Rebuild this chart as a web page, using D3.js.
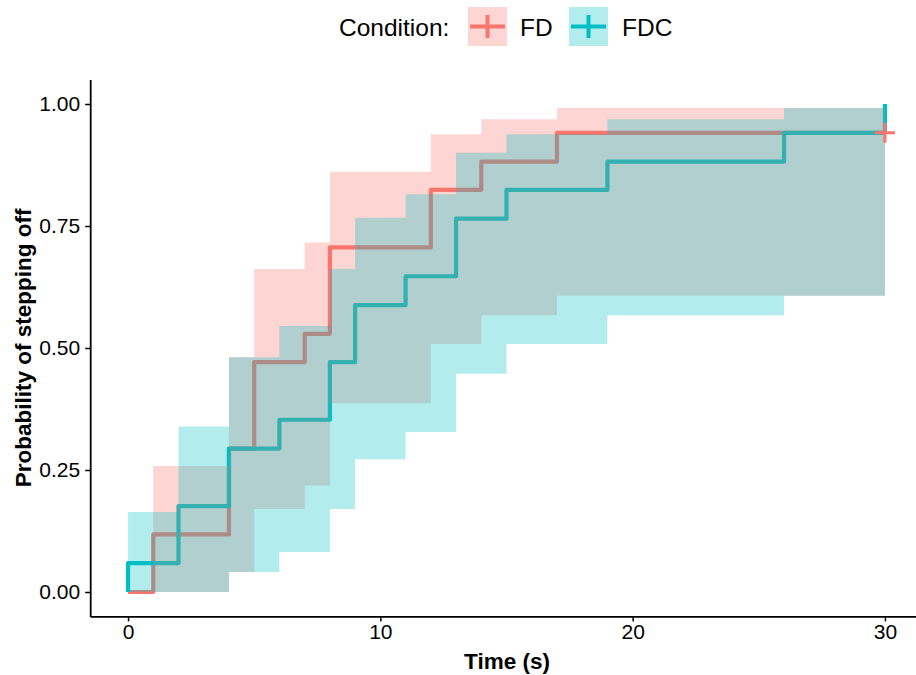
<!DOCTYPE html>
<html>
<head>
<meta charset="utf-8">
<script src="https://cdn.jsdelivr.net/npm/d3@7"></script>
<style>
body { margin: 0; background: #fff; }
text { font-family: "Liberation Sans", Arial, sans-serif; }
</style>
</head>
<body>
<div id="chart"></div>
<script>
// FD group (event times, cumulative probability, 95% band)
var fdTime  = [0, 1, 4, 5, 7, 8, 12, 14, 17, 30];
var fdProb  = [0, 0.118, 0.294, 0.471, 0.529, 0.706, 0.824, 0.882, 0.941, 0.941];
var fdLow   = [0, 0, 0.041, 0.170, 0.218, 0.387, 0.508, 0.567, 0.607, 0.607];
var fdHigh  = [0, 0.258, 0.481, 0.662, 0.716, 0.861, 0.938, 0.969, 0.992, 0.992];
var fdCensor = [[30, 0.941]];

// FDC group
var fdcTime = [0, 0, 2, 4, 6, 8, 9, 11, 13, 15, 19, 26, 30];
var fdcProb = [0, 0.059, 0.176, 0.294, 0.353, 0.471, 0.588, 0.647, 0.765, 0.824, 0.882, 0.941, 1.0];
var fdcLow  = [0, 0, 0, 0.041, 0.082, 0.170, 0.272, 0.328, 0.447, 0.508, 0.567, 0.607, 0.607];
var fdcHigh = [0, 0.164, 0.339, 0.481, 0.545, 0.662, 0.767, 0.815, 0.900, 0.938, 0.969, 0.992, 0.992];

var groups = ["FD", "FDC"];
var colors = ["#F8766D", "#00BFC4"];
var xTicks = [0, 10, 20, 30];
var yTicks = [0, 0.25, 0.5, 0.75, 1];

function rows(t, p, lo, hi) {
    return t.map(function(d, i) {
        return { t: d, p: p[i], lo: lo[i], hi: hi[i] };
    });
}

function init () {
    var w = 916;
    var h = 675;

    var series = [
        { name: "FD", color: colors[0], data: rows(fdTime, fdProb, fdLow, fdHigh), censor: fdCensor },
        { name: "FDC", color: colors[1], data: rows(fdcTime, fdcProb, fdcLow, fdcHigh), censor: [] }
    ];

    var xScale = d3.scaleLinear()
                .domain([-1.5, 31.5])
                .range([90.2, 922.8]);

    var yScale = d3.scaleLinear()
                .domain([-0.05, 1.05])
                .range([616.4, 79.6]);

    var svg = d3.select("#chart")
                .append("svg")
                .attr("width", w)
                .attr("height", h);

    var line = d3.line()
                .curve(d3.curveStepAfter)
                .x(function(d) { return xScale(d.t); })
                .y(function(d) { return yScale(d.p); });

    var area = d3.area()
                .curve(d3.curveStepAfter)
                .x(function(d) { return xScale(d.t); })
                .y0(function(d) { return yScale(d.lo); })
                .y1(function(d) { return yScale(d.hi); });

    // curves first, bands laid on top like ggsurvplot
    svg.selectAll("path.curve")
        .data(series)
        .enter()
        .append("path")
        .attr("class", "curve")
        .attr("d", function(d) { return line(d.data); })
        .attr("fill", "none")
        .attr("stroke", function(d) { return d.color; })
        .attr("stroke-width", 4.2)
        .attr("stroke-linejoin", "round");

    svg.selectAll("path.band")
        .data(series)
        .enter()
        .append("path")
        .attr("class", "band")
        .attr("d", function(d) { return area(d.data); })
        .attr("fill", function(d) { return d.color; })
        .attr("fill-opacity", 0.3);

    // censor marks
    series.forEach(function(s) {
        s.censor.forEach(function(c) {
            var cx = xScale(c[0]), cy = yScale(c[1]);
            svg.append("path")
                .attr("d", "M" + (cx - 10) + "," + cy + "H" + (cx + 10) + "M" + cx + "," + (cy - 10) + "V" + (cy + 10))
                .attr("stroke", s.color)
                .attr("stroke-width", 3);
        });
    });

    var xAxis = d3.axisBottom(xScale)
                .tickValues(xTicks)
                .tickSize(5)
                .tickSizeOuter(0)
                .tickPadding(3);

    var yAxis = d3.axisLeft(yScale)
                .tickValues(yTicks)
                .tickFormat(d3.format(".2f"))
                .tickSize(5)
                .tickSizeOuter(0)
                .tickPadding(5);

    var gx = svg.append("g")
                .attr("transform", "translate(0," + yScale(-0.05) + ")")
                .call(xAxis);

    var gy = svg.append("g")
                .attr("transform", "translate(" + xScale(-1.5) + ",0)")
                .call(yAxis);

    [gx, gy].forEach(function(g) {
        g.select(".domain").attr("stroke", "#000").attr("stroke-width", 1.8);
        g.selectAll(".tick line").attr("stroke", "#000").attr("stroke-width", 1.5);
        g.selectAll(".tick text")
            .attr("fill", "#000")
            .style("font-size", "21px")
            .style("font-family", "Liberation Sans, Arial, sans-serif");
    });

    svg.append("text")
        .attr("x", 507)
        .attr("y", 669)
        .attr("text-anchor", "middle")
        .style("font-size", "22.5px")
        .style("font-weight", "bold")
        .text("Time (s)");

    svg.append("text")
        .attr("transform", "translate(31," + yScale(0.5) + ") rotate(-90)")
        .attr("text-anchor", "middle")
        .style("font-size", "22.5px")
        .style("font-weight", "bold")
        .text("Probability of stepping off");

    // legend
    var legend = svg.append("g");
    legend.append("text")
        .attr("x", 339)
        .attr("y", 36)
        .style("font-size", "24.5px")
        .text("Condition:");

    var keyX = [468, 569];
    var labX = [520, 622];
    series.forEach(function(s, i) {
        legend.append("rect")
            .attr("x", keyX[i])
            .attr("y", 7)
            .attr("width", 39)
            .attr("height", 39)
            .attr("fill", s.color)
            .attr("fill-opacity", 0.3);
        legend.append("path")
            .attr("d", "M" + (keyX[i] + 2) + ",26.5H" + (keyX[i] + 37) + "M" + (keyX[i] + 19.5) + ",15V38")
            .attr("stroke", s.color)
            .attr("stroke-width", 4);
        legend.append("text")
            .attr("x", labX[i])
            .attr("y", 36)
            .style("font-size", "24.5px")
            .text(groups[i]);
    });
}
window.onload = init;
</script>
</body>
</html>
